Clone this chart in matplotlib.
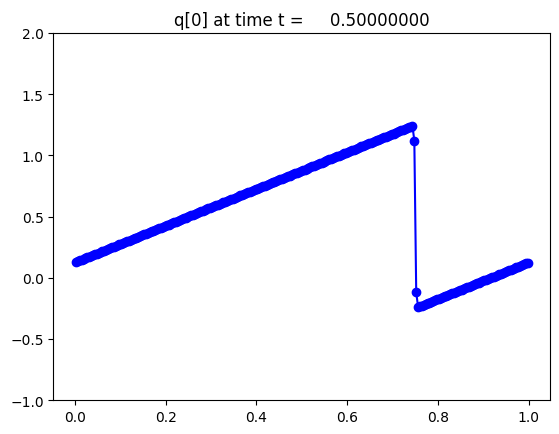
import numpy as np
import matplotlib
matplotlib.use("Agg")
from matplotlib import pyplot as plt

# cell values (left ramp, two smeared cells, right ramp)
q_left = [0.128, 0.134, 0.141, 0.147, 0.153, 0.159, 0.166, 0.172, 0.178, 0.184, 0.191, 0.197, 0.203, 0.209, 0.216, 0.222,
          0.228, 0.234, 0.241, 0.247, 0.253, 0.259, 0.266, 0.272, 0.278, 0.284, 0.291, 0.297, 0.303, 0.309, 0.316, 0.322,
          0.328, 0.334, 0.341, 0.347, 0.353, 0.359, 0.366, 0.372, 0.378, 0.384, 0.391, 0.397, 0.403, 0.409, 0.416, 0.422,
          0.428, 0.434, 0.441, 0.447, 0.453, 0.459, 0.466, 0.472, 0.478, 0.484, 0.491, 0.497, 0.503, 0.509, 0.516, 0.522,
          0.528, 0.534, 0.541, 0.547, 0.553, 0.559, 0.566, 0.572, 0.578, 0.584, 0.591, 0.597, 0.603, 0.609, 0.616, 0.622,
          0.628, 0.634, 0.641, 0.647, 0.653, 0.659, 0.666, 0.672, 0.678, 0.684, 0.691, 0.697, 0.703, 0.709, 0.716, 0.722,
          0.728, 0.734, 0.741, 0.747, 0.753, 0.759, 0.766, 0.772, 0.778, 0.784, 0.791, 0.797, 0.803, 0.809, 0.816, 0.822,
          0.828, 0.834, 0.841, 0.847, 0.853, 0.859, 0.866, 0.872, 0.878, 0.884, 0.891, 0.897, 0.903, 0.909, 0.916, 0.922,
          0.928, 0.934, 0.941, 0.947, 0.953, 0.959, 0.966, 0.972, 0.978, 0.984, 0.991, 0.997, 1.003, 1.009, 1.016, 1.022,
          1.028, 1.034, 1.041, 1.047, 1.053, 1.059, 1.066, 1.072, 1.078, 1.084, 1.091, 1.097, 1.103, 1.109, 1.116, 1.122,
          1.128, 1.134, 1.141, 1.147, 1.153, 1.159, 1.166, 1.172, 1.178, 1.184, 1.191, 1.197, 1.203, 1.209, 1.216, 1.222,
          1.228, 1.234, 1.241]
q_jump = [1.12, -0.12]
q_right = [-0.241, -0.234, -0.228, -0.222, -0.216, -0.209, -0.203, -0.197, -0.191, -0.184, -0.178, -0.172, -0.166, -0.159, -0.153, -0.147,
           -0.141, -0.134, -0.128, -0.122, -0.116, -0.109, -0.103, -0.097, -0.091, -0.084, -0.078, -0.072, -0.066, -0.059, -0.053, -0.047,
           -0.041, -0.034, -0.028, -0.022, -0.016, -0.009, -0.003, 0.003, 0.009, 0.016, 0.022, 0.028, 0.034, 0.041, 0.047, 0.053,
           0.059, 0.066, 0.072, 0.078, 0.084, 0.091, 0.097, 0.103, 0.109, 0.116, 0.122]
t = 0.5

q = np.array(q_left + q_jump + q_right)
mx = len(q)
x = (np.arange(mx) + 0.5) / mx   # cell centres on [0, 1]

fig = plt.figure(figsize=(5.59, 4.35), dpi=100)
ax = fig.add_axes([0.0955, 0.078, 0.889, 0.844])
ax.plot(x, q, 'bo-')
ax.set_ylim(-1.0, 2.0)
ax.set_title("q[0] at time t = %14.8f" % t)
fig.savefig("out.png", dpi=100)
